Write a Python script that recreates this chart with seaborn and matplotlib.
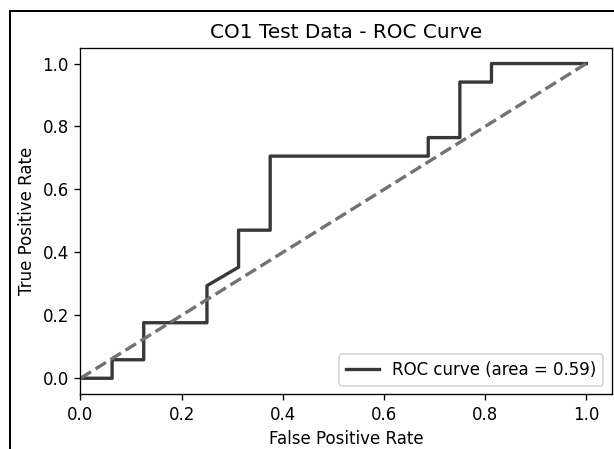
import matplotlib
matplotlib.use("Agg")
import matplotlib.pyplot as plt
from matplotlib.lines import Line2D
import seaborn as sns

# ROC points (fpr steps of 1/16, tpr steps of 1/17)
fpr = [0.0, 0.0625, 0.0625, 0.125, 0.125, 0.25, 0.25, 0.3125, 0.3125,
       0.375, 0.375, 0.6875, 0.6875, 0.75, 0.75, 0.8125, 0.8125, 1.0]
tpr = [0.0, 0.0, 1/17, 1/17, 3/17, 3/17, 5/17, 6/17, 8/17,
       8/17, 12/17, 12/17, 13/17, 13/17, 16/17, 16/17, 1.0, 1.0]
chance_x = [0.0, 1.0]
chance_y = [0.0, 1.0]
roc_auc = 0.59

fig = plt.figure(figsize=(614 / 120, 449 / 120), dpi=120)
ax = fig.add_axes([0.1311, 0.1225, 0.865, 0.771])

sns.lineplot(x=fpr, y=tpr, sort=False, estimator=None, ax=ax,
             color="#383838", lw=2, label=f"ROC curve (area = {roc_auc:.2f})")
sns.lineplot(x=chance_x, y=chance_y, sort=False, estimator=None, ax=ax,
             color="#727272", lw=2, linestyle="--")

ax.set_xlim(0.0, 1.05)
ax.set_ylim(-0.05, 1.05)
ax.set_xlabel("False Positive Rate")
ax.set_ylabel("True Positive Rate")
ax.set_title("CO1 Test Data - ROC Curve")
ax.legend(loc="lower right")

# screenshot frame around the figure
fig.add_artist(Line2D([9.5 / 614, 9.5 / 614], [0, 1 - 11 / 449],
                      transform=fig.transFigure, color="black", lw=1.2))
fig.add_artist(Line2D([9.5 / 614, 1], [1 - 11 / 449, 1 - 11 / 449],
                      transform=fig.transFigure, color="black", lw=1.2))

fig.savefig("out.png", dpi=120)
plt.close(fig)
